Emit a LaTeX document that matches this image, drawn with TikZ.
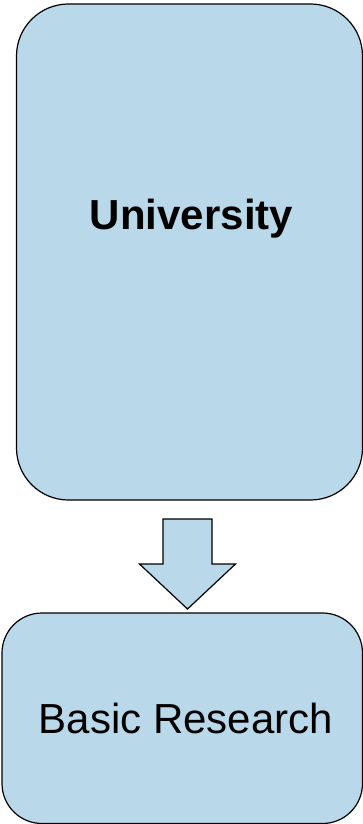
\documentclass[tikz,border=0pt]{standalone}
\usepackage{fontspec}
\setmainfont{Liberation Sans}
\usetikzlibrary{positioning,calc}
\definecolor{boxblue}{RGB}{185,216,234}

\begin{document}
\begin{tikzpicture}[x=1pt, y=-1pt,
      block/.style={draw=black, line width=1.2pt, fill=boxblue, inner sep=0pt},
      blocktext/.style={font=\fontsize{42}{50}\selectfont, inner sep=0pt},
      bigarrow/.style={draw=black, line width=1.2pt, fill=boxblue, line join=miter}
    ]
      \useasboundingbox (0,0) rectangle (362,824);

      % University box
      \node[block, rounded corners=52pt, minimum width=346pt, minimum height=496pt] (univ) at (189.5,252) {};
      \node[blocktext, font=\fontsize{42}{50}\selectfont\bfseries] (univtext) at (191.5,219) {University};

      % Basic Research box
      \node[block, rounded corners=40pt, minimum width=360.5pt, minimum height=210.5pt] (basic) at (182.25,718.25) {};
      \node[blocktext] (basictext) at (186,718) {Basic Research};

      % Block arrow between the boxes
      \coordinate (atop) at (187.5,519);
      \coordinate (atip) at (187.5,609);
      \draw[bigarrow] ($(atop)+(-24.5,0)$) -- ($(atop)+(24.5,0)$) -- ($(atip)+(24.5,-45)$)
        -- ($(atip)+(48,-45)$) -- (atip) -- ($(atip)+(-48,-45)$) -- ($(atip)+(-24.5,-45)$) -- cycle;
    \end{tikzpicture}
\end{document}
